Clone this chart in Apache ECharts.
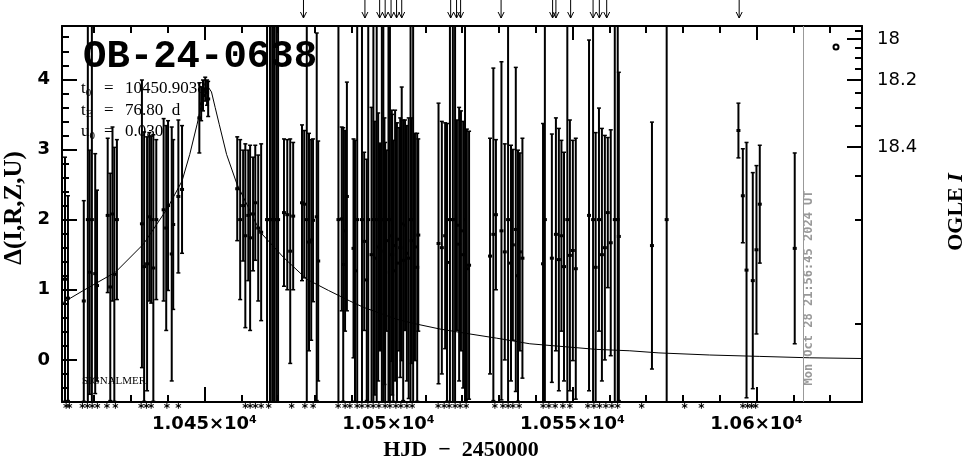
<!DOCTYPE html>
<html><head><meta charset="utf-8">
<script src="https://cdn.jsdelivr.net/npm/echarts@6/dist/echarts.min.js"></script>
<style>html,body{margin:0;padding:0;background:#fff}#c{width:965px;height:459px}</style>
</head><body><div id="c"></div>
<script>
// ---- data ----
const eventName = 'OB-24-0638';
const paramNames = [['t','0'],['t','E'],['u','0']];
const paramValues = ['10450.9038','76.80  d','0.030'];
const sourceLabel = 'SIGNALMER';
const nowLabel = 'Mon Oct 28 21:56:45 2024 UT';
const nowT = 10612.6;

const xMin = 10411.28, xMax = 10628.68, yMin = -0.60, yMax = 4.76;
const xLabelTicks = [10450, 10500, 10550, 10600];
const yLabelTicks = [0, 1, 2, 3, 4];
const magLabelTicks = [18, 18.2, 18.4];
const magMinorTicks = [17.95, 18.05, 18.1, 18.15, 18.25, 18.3, 18.35, 18.45, 18.5, 18.55];
const magZero = 5.547, magBase = 0.5929; // relation between Delta and OGLE I

// observations: time, value, error
const obsT = [
 10412.1,10412.9,
 10417.2,10418.3,10418.8,10419.4,10420.3,10420.8,
 10423.7,10424.4,10425.0,10425.5,10426.2,
 10433.0,10433.6,10434.4,10435.0,10435.5,10436.1,10436.9,
 10438.9,10439.6,10440.1,10441.1,10441.5,10442.9,10443.9,
 10448.6,10449.1,10449.6,10450.2,10450.7,10451.0,
 10458.9,10459.7,10460.5,10461.1,10461.9,10462.4,10463.2,10463.8,10464.6,10465.4,
 10467.0,10467.8,10468.4,10468.9,10469.5,10470.0,
 10471.6,10472.5,10473.3,10474.1,
 10476.5,10477.1,10477.8,10478.4,10479.0,10479.5,10480.5,10480.9,
 10486.4,10487.3,10487.7,10488.2,10488.7,
 10490.5,10490.9,10491.5,10492.8,10493.4,10494.1,10494.5,
 10495.4,10495.9,10496.3,10496.8,10497.2,10497.7,10498.2,10498.6,10498.9,10499.1,10499.5,10500.0,10500.4,10500.9,10501.0,10501.3,10501.8,10502.3,10502.9,10503.2,10503.6,10504.0,10504.5,10505.0,10505.5,10506.0,10506.3,10506.7,10507.2,10507.8,10508.1,
 10513.6,10514.5,10515.4,10515.9,10516.7,10517.5,10518.1,10518.6,10519.2,10519.7,10520.3,10520.8,10521.3,10521.9,
 10527.6,10528.5,10529.2,10530.7,10531.6,10532.5,10533.3,10533.8,10534.6,10535.2,10535.7,10536.4,
 10542.0,10542.5,10544.4,10545.5,10546.3,10547.0,10547.7,10548.6,10549.3,10550.1,10550.9,
 10554.5,10555.6,10556.3,10557.2,10558.0,10558.8,10559.6,10560.4,10561.5,10562.3,10562.6,
 10571.6,10575.6,10595.1,10596.3,10597.3,10599.0,10600.0,10600.9,10610.4
];
const obsV = [
 1.15,0.88,
 0.84,2,1.25,2,1.23,1.06,
 2.06,1.04,2.08,1.22,2.0,
 1.94,1.33,1.37,2.04,2.0,1.31,2.0,
 2.14,1.88,2.2,1.51,1.93,2.33,2.43,
 3.45,3.65,3.77,3.86,3.81,3.72,
 2.44,2.0,2.2,1.77,2.06,1.74,2.08,2.24,1.88,1.82,
 2,2,2,2,2,2,
 2.1,2.07,1.55,2.05,
 2.24,2.22,2,1.68,1.71,1.99,2.04,1.41,
 2,2.01,1.36,1.84,2.33,
 1.59,1.27,2,2,1.69,1.14,2,
 1.5,2,1.45,2,1.61,1.61,2,2,1.55,1.25,1.7,2,2,1.77,1.5,1.27,1.63,1.38,1.72,1.6,1.94,1.42,1.92,1.52,1.45,2,1.7,2,1.61,1.32,1.78,
 1.66,1.6,1.77,1.39,2,2,2,1.92,1.65,1.84,1.5,2,1.3,1.35,
 1.48,1.79,2.07,1.84,1.54,2,1.38,1.64,1.86,1.2,1.54,1.45,
 1.37,2,1.45,1.79,1.43,1.77,1.33,2,1.49,1.56,1.3,
 2.06,2,1.32,2.0,1.5,1.6,2.1,1.67,2,2,1.76,
 1.63,2,3.27,2.34,1.28,1.13,1.57,2.22,1.59
];
const obsE = [
 1.74,1.46,
 1.43,9,1.74,9,1.71,1.36,
 1.1,1.62,1.24,1.81,1.14,
 2.05,1.92,1.81,1.2,1.19,1.9,1.14,
 1.3,1.46,1.21,1.81,1.21,1.09,0.91,
 0.5,0.24,0.22,0.17,0.18,0.25,
 0.74,1.14,0.79,1.31,0.93,1.32,0.81,0.82,1.04,1.26,
 9,9,9,9,9,9,
 1.05,1.07,1.6,1.05,
 1.11,1.05,9,1.55,1.43,1.16,2.62,1.71,
 9,1.31,1.95,1.43,1.63,
 1.56,1.86,9,9,1.27,1.72,9,
 2.1,9,1.95,9,1.91,1.48,9,9,1.9,1.85,1.29,9,9,1.79,2.0,1.86,1.93,2.0,1.59,1.85,1.95,2.0,1.5,1.82,2.0,9,1.75,9,1.62,1.91,1.37,
 2.0,1.8,1.61,1.98,9,9,9,1.5,1.95,1.71,1.9,9,1.99,1.91,
 1.68,2.37,1.07,2.41,1.54,9,1.68,1.36,2.31,1.79,1.41,1.71,
 2.0,9,1.77,1.66,1.87,1.36,1.63,9,1.93,1.57,1.86,
 2.5,9,1.92,1.59,1.8,1.6,1.07,1.61,9,9,2.34,
 1.76,9,0.39,0.67,1.82,1.54,1.2,0.84,1.36
];

// model curve
const modelT = [10411.3,10417.1,10425.8,10433.4,10439.8,10443.9,10446.0,10448.0,10449.0,10450.0,10450.9,10451.9,10452.9,10454.0,10456.0,10458.8,10465.2,10471.5,10477.8,10483.7,10489.5,10493.2,10502.2,10507.7,10514.0,10522.1,10529.4,10538.4,10547.5,10556.5,10565.6,10573.5,10587.3,10600.9,10614.5,10628.7];
const modelV = [0.81,0.99,1.25,1.65,2.15,2.55,2.93,3.36,3.60,3.82,3.90,3.82,3.60,3.36,2.93,2.51,1.82,1.46,1.15,0.99,0.84,0.75,0.58,0.51,0.44,0.37,0.31,0.23,0.19,0.15,0.13,0.10,0.07,0.05,0.03,0.02];

// asterisks under the axis
const starT = [10412.4,10413.3,10416.8,10418.2,10419.5,10420.9,10423.5,10425.8,10432.8,10434.2,10435.5,10439.8,10442.9,
 10461.1,10462.4,10463.8,10465.4,10467.4,10473.7,10477.3,10479.5,10486.3,10488.2,10489.5,10491.5,10492.8,10494.4,10495.8,
 10497.4,10499.1,10500.4,10502.0,10503.4,10505.0,10506.4,10513.5,10515.1,10516.5,10518.1,10519.5,10521.1,10528.9,10531.1,
 10532.5,10533.8,10535.5,10542.0,10543.6,10545.3,10547.4,10549.3,10554.2,10555.8,10557.4,10559.1,10560.7,10562.3,10568.8,
 10580.5,10585.0,10596.3,10597.6,10598.7,10599.8];
// alert arrows above the frame
const alertT = [10476.9,10493.6,10497.6,10499.1,10500.7,10502.2,10503.6,10516.9,10518.5,10519.6,10530.6,10544.6,10545.5,10549.5,10555.6,10557.3,10559.3,10595.3];

// ---- helpers ----
function mag2d(m){ return magZero + 2.5*Math.log10(Math.pow(10,-0.4*(m-18)) - magBase); }
function d2mag(d){ return 18 - 2.5*Math.log10(Math.pow(10,(d-magZero)/2.5) + magBase); }
const xMinor = []; for(let d=Math.ceil(xMin/10)*10; d<=xMax; d+=10){ if(d%50) xMinor.push(d); }
const yMinor = []; for(let k=Math.ceil(yMin*5); k<=Math.floor(yMax*5); k++){ if(k%5) yMinor.push(+(k*0.2).toFixed(1)); }
const magMajorD = magLabelTicks.map(mag2d);
const magMinorD = magMinorTicks.map(mag2d);

const obsData = obsT.map((t,i)=>[t, obsV[i], obsE[i]]);
const modelData = modelT.map((t,i)=>[t, modelV[i]]);

const chart = echarts.init(document.getElementById('c'));
const black = '#000';
const baseX = {type:'value', min:xMin, max:xMax, splitLine:{show:false}, axisLabel:{show:false}};
const baseY = {type:'value', min:yMin, max:yMax, splitLine:{show:false}, axisLabel:{show:false}};
const line2 = {show:true, onZero:false, lineStyle:{color:black, width:2}};
const noLine = {show:false, onZero:false};

function renderBar(params, api){
  const t=api.value(0), v=api.value(1), e=api.value(2);
  const hiV=Math.min(v+e,yMax), loV=Math.max(v-e,yMin);
  const top=api.coord([t,hiV]), bot=api.coord([t,loV]), c=api.coord([t,v]);
  const ch=[{type:'line',shape:{x1:top[0],y1:top[1],x2:bot[0],y2:bot[1]},style:{stroke:black,lineWidth:2}}];
  if(v+e<yMax) ch.push({type:'line',shape:{x1:top[0]-2,y1:top[1],x2:top[0]+2,y2:top[1]},style:{stroke:black,lineWidth:1.5}});
  if(v-e>yMin) ch.push({type:'line',shape:{x1:bot[0]-2,y1:bot[1],x2:bot[0]+2,y2:bot[1]},style:{stroke:black,lineWidth:1.5}});
  if(v>yMin && v<yMax) ch.push({type:'rect',shape:{x:c[0]-2,y:c[1]-1.5,width:4,height:3},style:{fill:black}});
  return {type:'group',children:ch};
}
function renderStar(params, api){
  const p=api.coord([api.value(0), yMin]);
  return {type:'text', x:p[0], y:p[1]+1, style:{text:'*', align:'center', verticalAlign:'top', fill:black, font:'bold 12px "DejaVu Sans"'}};
}
function renderArrow(params, api){
  const p=api.coord([api.value(0), yMax]);
  const x=p[0], y0=p[1]-26, y1=p[1]-8;
  return {type:'group',children:[
    {type:'line',shape:{x1:x,y1:y0,x2:x,y2:y1},style:{stroke:black,lineWidth:1}},
    {type:'polyline',shape:{points:[[x-3,y1-6],[x,y1],[x+3,y1-6]]},style:{stroke:black,lineWidth:1,fill:null}}
  ]};
}

const serif = '"Liberation Serif", "DejaVu Serif", serif';
chart.setOption({
  animation:false,
  backgroundColor:'#fff',
  grid:{left:62, right:103, top:26, bottom:57},
  xAxis:[
    Object.assign({}, baseX, {position:'bottom', axisLine:line2,
      axisTick:{show:true, inside:true, length:15, customValues:xLabelTicks, lineStyle:{color:black,width:2}},
      axisLabel:{show:true, customValues:xLabelTicks, margin:13, color:black, fontFamily:'DejaVu Sans', fontWeight:'bold', fontSize:18,
        formatter:v=>(v/1e4)+'×10⁴'}}),
    Object.assign({}, baseX, {position:'bottom', axisLine:noLine,
      axisTick:{show:true, inside:true, length:7, customValues:xMinor, lineStyle:{color:black,width:2}}}),
    Object.assign({}, baseX, {position:'top', axisLine:line2,
      axisTick:{show:true, inside:true, length:14, customValues:xLabelTicks, lineStyle:{color:black,width:2}}}),
    Object.assign({}, baseX, {position:'top', axisLine:noLine,
      axisTick:{show:true, inside:true, length:7, customValues:xMinor, lineStyle:{color:black,width:2}}})
  ],
  yAxis:[
    Object.assign({}, baseY, {position:'left', axisLine:line2,
      axisTick:{show:true, inside:true, length:15, customValues:yLabelTicks, lineStyle:{color:black,width:2}},
      axisLabel:{show:true, customValues:yLabelTicks, margin:12, color:black, fontFamily:'DejaVu Sans', fontWeight:'bold', fontSize:18}}),
    Object.assign({}, baseY, {position:'left', axisLine:noLine,
      axisTick:{show:true, inside:true, length:7, customValues:yMinor, lineStyle:{color:black,width:2}}}),
    Object.assign({}, baseY, {position:'right', axisLine:line2,
      axisTick:{show:true, inside:true, length:15, customValues:magMajorD, lineStyle:{color:black,width:2}},
      axisLabel:{show:true, customValues:magMajorD, margin:15, color:black, fontFamily:'DejaVu Sans', fontSize:18,
        formatter:v=>String(Math.round(d2mag(v)*10)/10)}}),
    Object.assign({}, baseY, {position:'right', axisLine:noLine,
      axisTick:{show:true, inside:true, length:7, customValues:magMinorD, lineStyle:{color:black,width:2}}})
  ],
  series:[
    {type:'line', data:modelData, showSymbol:false, symbol:'none', silent:true, z:3,
      lineStyle:{color:black, width:1},
      markLine:{silent:true, symbol:['none','none'], label:{show:false}, animation:false,
        lineStyle:{color:'#999', width:1, type:'solid'}, data:[{xAxis:nowT}]}},
    {type:'custom', data:obsData, renderItem:renderBar, clip:false, silent:true, z:2, encode:{x:0,y:1}},
    {type:'custom', data:starT.map(t=>[t]), renderItem:renderStar, clip:false, silent:true, z:2, encode:{x:0}},
    {type:'custom', data:alertT.map(t=>[t]), renderItem:renderArrow, clip:false, silent:true, z:2, encode:{x:0}}
  ],
  graphic:[
    {type:'text', x:83, y:57, z:10, style:{text:eventName, fill:black, font:'bold 39px "Liberation Mono", "DejaVu Sans Mono", monospace', verticalAlign:'middle'}},
    ...paramNames.map((p,i)=>({type:'text', x:81, y:89+i*21.5, z:10, style:{
      text:'{a|'+p[0]+'}{b|'+p[1]+'}', verticalAlign:'middle', fill:black,
      rich:{a:{font:'17px '+serif, fill:black}, b:{font:'11px '+serif, fill:black, padding:[8,0,0,0]}}}})),
    ...paramNames.map((p,i)=>({type:'text', x:104, y:89+i*21.5, z:10, style:{text:'=', verticalAlign:'middle', fill:black, font:'17px '+serif}})),
    ...paramValues.map((v,i)=>({type:'text', x:125, y:89+i*21.5, z:10, style:{text:v, verticalAlign:'middle', fill:black, font:'17px '+serif}})),
    {type:'text', x:82, y:381, z:10, style:{text:sourceLabel, fill:black, font:'11px '+serif, verticalAlign:'middle'}},
    {type:'text', x:809, y:288, rotation:Math.PI/2, z:10, style:{text:nowLabel, align:'center', verticalAlign:'middle', fill:'#999', font:'bold 12px "DejaVu Sans Mono", monospace'}},
    {type:'circle', x:836, y:47, z:10, shape:{r:2.5}, style:{fill:'#fff', stroke:black, lineWidth:2}},
    {type:'text', x:15, y:208, rotation:Math.PI/2, z:10, style:{text:'Δ(I,R,Z,U)', align:'center', verticalAlign:'middle', fill:black, font:'bold 25px '+serif}},
    {type:'text', x:461, y:450, z:10, style:{text:'HJD  −  2450000', align:'center', verticalAlign:'middle', fill:black, font:'bold 22px '+serif}},
    {type:'text', x:956, y:212, rotation:Math.PI/2, z:10, style:{text:'{a|OGLE }{b|I}', align:'center', verticalAlign:'middle',
      rich:{a:{font:'bold 22px '+serif, fill:black}, b:{font:'italic bold 22px '+serif, fill:black}}}}
  ]
});
</script>
</body></html>
